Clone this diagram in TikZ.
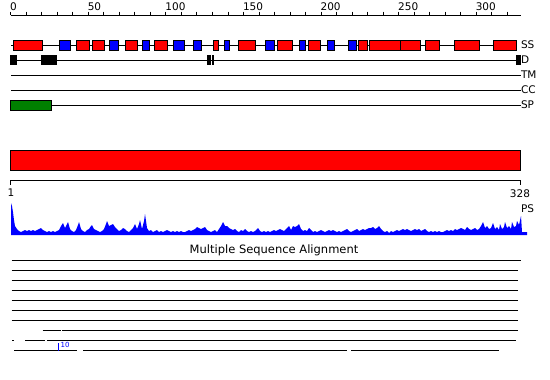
\documentclass[tikz,border=0pt]{standalone}
\usepackage{fontspec}
\setmainfont{DejaVu Sans}
\usepackage{tikz}
\usetikzlibrary{positioning}
\tikzset{
trk/.style = {line width=0.9pt},
helix/.style = {draw, line width=0.9pt, fill=red},
strand/.style = {draw, line width=0.9pt, fill=blue},
sig/.style = {draw, line width=0.9pt, fill=green!50!black},
lab/.style = {font=\fontsize{10.5}{12}\selectfont, inner sep=0pt, outer sep=0pt},
tracklab/.style = {lab, anchor=west}
}
\newcommand{\sshelix}[2]{\draw[helix] (#1,40) rectangle (#2,50);}
\newcommand{\ssstrand}[2]{\draw[strand] (#1,40) rectangle (#2,50);}
\newcommand{\disorder}[2]{\fill (#1,55) rectangle (#2,65);}
\newcommand{\ticklab}[2]{\node[lab, anchor=south west] (r#2) at (#1,11) {#2};}
\newcommand{\msaline}[3]{\draw[trk] (#2,#1) -- (#3,#1);}

\begin{document}
\begin{tikzpicture}[x=1pt, y=-1pt]
    \useasboundingbox (0,0) rectangle (550,380);

    % ruler
    \draw[trk] (10.7,15) -- (520.7,15);
    \foreach \i in {0,...,32} \draw[trk] (10.7+15.52*\i,11.5) -- (10.7+15.52*\i,15);
    \ticklab{10.2}{0};
    \ticklab{87.8}{50};
    \ticklab{165.4}{100};
    \ticklab{243}{150};
    \ticklab{320.6}{200};
    \ticklab{398.2}{250};
    \ticklab{475.8}{300};

    % tracks
    \draw[trk] (11,45) -- (517,45);
    \draw[trk] (11,60) -- (520,60);
    \draw[trk] (11,75) -- (520.7,75);
    \draw[trk] (11,90) -- (520.7,90);
    \draw[trk] (11,105) -- (520.7,105);

    \sshelix{13.3}{42.3};
    \ssstrand{59.3}{70.7};
    \sshelix{76.3}{89.3};
    \sshelix{92.3}{104.3};
    \ssstrand{109.3}{118.7};
    \sshelix{125.3}{137.3};
    \ssstrand{142.3}{149.7};
    \sshelix{154.3}{167.3};
    \ssstrand{173.3}{184.3};
    \ssstrand{193.3}{201.7};
    \sshelix{213.3}{218.7};
    \ssstrand{224.3}{229.7};
    \sshelix{238.3}{255.3};
    \ssstrand{265.3}{274.3};
    \sshelix{277.7}{292.7};
    \ssstrand{299.3}{305.7};
    \sshelix{308.3}{320.7};
    \ssstrand{327.3}{334.7};
    \ssstrand{348.3}{356.7};
    \sshelix{358.3}{367.7};
    \sshelix{369.3}{400.7};
    \sshelix{400.7}{420.7};
    \sshelix{425.3}{439.3};
    \sshelix{454.3}{479.3};
    \sshelix{493.3}{516.7};

    \disorder{10}{16.7};
    \disorder{41}{56.7};
    \disorder{207.3}{211};
    \disorder{212}{213.7};
    \disorder{516}{520.7};

    \draw[sig] (10.7,100) rectangle (51.7,110);

    \node[tracklab] (ss) at (521,45) {SS};
    \node[tracklab] (d) at (521,60) {D};
    \node[tracklab] (tm) at (521,75) {TM};
    \node[tracklab] (cc) at (521,90) {CC};
    \node[tracklab] (sp) at (521,105) {SP};

    % sequence bar and profile
    \draw[trk, fill=red] (10.7,150) rectangle (520.7,170.7);
    \draw[trk] (10.7,184.5) -- (10.7,180.3) -- (520.7,180.3) -- (520.7,184.5);
    \node[lab, anchor=north] (first) at (11,189) {1};
    \node[lab, anchor=north] (last) at (520,190) {328};
    \node[lab, anchor=north west] (ps) at (521,205) {PS};

    \fill[blue] (11,235) -- (11,203) -- (12,206) -- (13,212) -- (14,220) -- (15,226) -- (17,229)
      -- (19,231) -- (21,232) -- (23,231) -- (25,230) -- (27,231) -- (29,230) -- (31,231) -- (33,230)
      -- (35,231) -- (37,230) -- (39,229) -- (41,228) -- (43,230) -- (45,231) -- (47,232) -- (49,231)
      -- (51,232) -- (53,231) -- (55,232) -- (57,231) -- (59,230) -- (61,226) -- (63,223) -- (65,228)
      -- (67,224) -- (68,222) -- (70,229) -- (72,231) -- (74,232) -- (76,230) -- (78,225) -- (79,222)
      -- (81,229) -- (83,231) -- (85,232) -- (87,230) -- (89,229) -- (91,226) -- (92,225) -- (94,229)
      -- (96,230) -- (98,231) -- (100,232) -- (102,231) -- (104,229) -- (106,224) -- (107,221)
      -- (109,226) -- (111,225) -- (113,224) -- (115,227) -- (117,229) -- (119,231) -- (121,230)
      -- (123,228) -- (125,229) -- (127,231) -- (129,232) -- (131,230) -- (133,228) -- (135,224)
      -- (137,229) -- (139,224) -- (140,220) -- (142,229) -- (144,221) -- (145,214) -- (147,228)
      -- (149,231) -- (151,230) -- (153,232) -- (155,231) -- (157,230) -- (159,232) -- (161,231)
      -- (163,232) -- (165,231) -- (167,230) -- (169,231) -- (171,232) -- (173,231) -- (175,232)
      -- (177,231) -- (179,232) -- (181,231) -- (183,232) -- (185,232) -- (187,231) -- (189,230)
      -- (191,231) -- (193,230) -- (195,229) -- (197,227) -- (199,228) -- (201,229) -- (203,228)
      -- (205,227) -- (207,230) -- (209,231) -- (211,232) -- (213,231) -- (215,230) -- (217,232)
      -- (219,229) -- (221,226) -- (223,222) -- (225,226) -- (227,226) -- (229,228) -- (231,229)
      -- (233,230) -- (235,229) -- (237,231) -- (239,232) -- (241,230) -- (243,231) -- (245,229)
      -- (247,231) -- (249,232) -- (251,231) -- (253,232) -- (255,231) -- (257,229) -- (258,228)
      -- (260,231) -- (262,232) -- (264,231) -- (266,232) -- (268,231) -- (270,232) -- (272,231)
      -- (274,230) -- (276,231) -- (278,230) -- (280,229) -- (282,230) -- (284,231) -- (286,229)
      -- (289,226) -- (291,230) -- (293,226) -- (295,227) -- (297,226) -- (299,224) -- (301,229)
      -- (303,231) -- (305,230) -- (307,231) -- (309,228) -- (311,230) -- (313,232) -- (315,231)
      -- (317,232) -- (319,231) -- (321,230) -- (323,231) -- (325,232) -- (327,231) -- (329,230)
      -- (331,231) -- (333,230) -- (335,231) -- (337,232) -- (339,231) -- (341,232) -- (343,231)
      -- (345,230) -- (347,229) -- (349,231) -- (351,232) -- (353,231) -- (355,230) -- (357,229)
      -- (359,231) -- (361,230) -- (363,229) -- (365,230) -- (367,229) -- (369,228) -- (371,228)
      -- (373,227) -- (375,229) -- (377,228) -- (379,226) -- (381,229) -- (383,231) -- (385,232)
      -- (387,231) -- (389,233) -- (391,231) -- (393,232) -- (395,231) -- (397,230) -- (399,231)
      -- (401,230) -- (403,229) -- (405,230) -- (407,229) -- (409,230) -- (411,231) -- (413,230)
      -- (415,229) -- (417,230) -- (419,229) -- (421,231) -- (423,230) -- (425,229) -- (427,231)
      -- (429,232) -- (431,231) -- (433,232) -- (435,231) -- (437,232) -- (439,231) -- (441,232)
      -- (443,232) -- (445,231) -- (447,230) -- (449,231) -- (451,230) -- (453,231) -- (455,229)
      -- (457,230) -- (459,229) -- (461,228) -- (463,229) -- (465,230) -- (467,227) -- (469,229)
      -- (471,230) -- (473,229) -- (475,228) -- (477,230) -- (479,229) -- (481,226) -- (483,222)
      -- (485,228) -- (487,226) -- (489,229) -- (491,228) -- (493,223) -- (495,229) -- (497,227)
      -- (499,230) -- (500,224) -- (502,229) -- (504,227) -- (505,222) -- (507,228) -- (509,226)
      -- (511,229) -- (512,222) -- (514,227) -- (516,226) -- (517,221) -- (519,225) -- (521,216)
      -- (522,232) -- (527,232) -- (527,235) -- cycle;

    % alignment
    \node[lab, font=\fontsize{11.5}{13}\selectfont] (msa) at (274,250) {Multiple Sequence Alignment};
    \msaline{260}{11.7}{520.7};
    \msaline{270}{11.7}{518.3};
    \msaline{280}{11.7}{518.3};
    \msaline{290}{11.7}{518.3};
    \msaline{300}{11.7}{518.3};
    \msaline{310}{11.7}{518.3};
    \msaline{320}{11.7}{518.3};
    \msaline{330}{42.7}{61};
    \msaline{330}{62}{518.3};
    \msaline{340}{12}{14};
    \msaline{340}{25}{45};
    \msaline{340}{47}{515.7};
    \msaline{350}{14}{77};
    \msaline{350}{83}{347};
    \msaline{350}{351}{499};

    \draw[blue, line width=0.9pt] (58,343) -- (58,351);
    \node[anchor=south west, inner sep=0pt, blue, font=\fontsize{7}{8}\selectfont] (mark) at (60.5,347.7) {10};
\end{tikzpicture}
\end{document}
